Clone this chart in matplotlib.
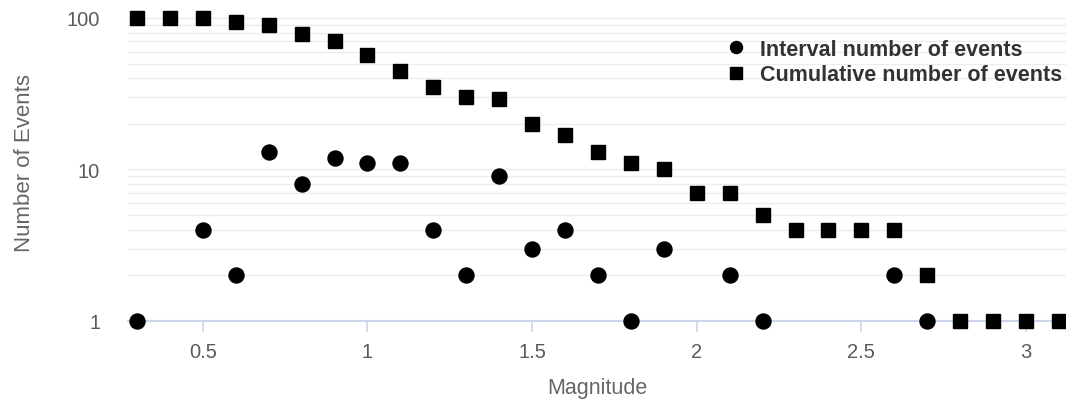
import matplotlib.pyplot as plt
from matplotlib.ticker import FixedLocator, NullFormatter

# Interval / cumulative number of events per magnitude bin
interval_mag = [0.3, 0.5, 0.6, 0.7, 0.8, 0.9, 1.0, 1.1, 1.2, 1.3,
                1.4, 1.5, 1.6, 1.7, 1.8, 1.9, 2.1, 2.2, 2.6, 2.7]
interval_n = [1, 4, 2, 13, 8, 12, 11, 11, 4, 2,
              9, 3, 4, 2, 1, 3, 2, 1, 2, 1]

cumulative_mag = [0.3, 0.4, 0.5, 0.6, 0.7, 0.8, 0.9, 1.0, 1.1, 1.2,
                  1.3, 1.4, 1.5, 1.6, 1.7, 1.8, 1.9, 2.0, 2.1, 2.2,
                  2.3, 2.4, 2.5, 2.6, 2.7, 2.8, 2.9, 3.0, 3.1]
cumulative_n = [100, 100, 100, 94, 90, 78, 70, 57, 45, 35,
                30, 29, 20, 17, 13, 11, 10, 7, 7, 5,
                4, 4, 4, 4, 2, 1, 1, 1, 1]

x_ticks = [0.5, 1, 1.5, 2, 2.5, 3]
x_tick_labels = ["0.5", "1", "1.5", "2", "2.5", "3"]
y_ticks = [1, 10, 100]
y_tick_labels = ["1", "10", "100"]

plt.rcParams['font.family'] = ['Liberation Sans', 'DejaVu Sans']

fig = plt.figure(figsize=(10.66, 4.02), dpi=100)
ax = fig.add_axes([128 / 1066, 1 - 322 / 402, 1 - 128 / 1066, (322 - 5) / 402])

ax.plot(interval_mag, interval_n, linestyle='none', marker='o', ms=10.8,
        color='black', label='Interval number of events', zorder=3, clip_on=False)
ax.plot(cumulative_mag, cumulative_n, linestyle='none', marker='s', ms=10.5,
        color='black', label='Cumulative number of events', zorder=3, clip_on=False)

ax.set_yscale('log')
ax.set_xlim(0.2727, 3.1215)
ax.set_ylim(1, 123.7)

# y grid: decades plus the 2..9 in-between lines
minor = [m * d for d in (1, 10) for m in range(2, 10)]
ax.yaxis.set_major_locator(FixedLocator(y_ticks))
ax.yaxis.set_minor_locator(FixedLocator(minor))
ax.yaxis.set_minor_formatter(NullFormatter())
ax.set_yticklabels(y_tick_labels)
ax.grid(axis='y', which='both', color='#ececec', lw=0.9, zorder=0)
ax.tick_params(axis='y', which='both', length=0, pad=20, labelsize=14.5,
               labelcolor='#5a5a5a')

ax.set_xticks(x_ticks, labels=x_tick_labels)
ax.tick_params(axis='x', length=8, width=1.2, color='#c9d5ea', pad=7,
               labelsize=14.5, labelcolor='#5a5a5a')

for side in ['top', 'right', 'left']:
    ax.spines[side].set_visible(False)
ax.spines['bottom'].set_color('#c9d5ea')
ax.spines['bottom'].set_linewidth(1.5)
ax.spines['bottom'].set_zorder(1)

ax.set_xlabel('Magnitude', fontsize=15.5, color='#666666', labelpad=12)
ax.set_ylabel('Number of Events', fontsize=16, color='#666666', labelpad=23)

leg = ax.legend(loc='upper left', bbox_to_anchor=(717 / 1066, 1 - 29 / 402),
                bbox_transform=fig.transFigure, frameon=False, borderpad=0,
                handlelength=0.8, handletextpad=0.7, labelspacing=0.2,
                markerscale=0.8, prop={'size': 15.5, 'weight': 'bold'})
for t in leg.get_texts():
    t.set_color('#333333')

fig.savefig('out.png', dpi=100)
